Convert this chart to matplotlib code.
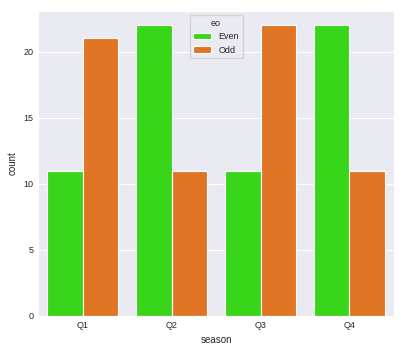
import matplotlib
matplotlib.use("Agg")
import matplotlib.pyplot as plt
import numpy as np
import seaborn as sns

sns.set_style("darkgrid")
plt.rcParams['font.family'] = ['Liberation Sans', 'DejaVu Sans']

seasons = ["Q1", "Q2", "Q3", "Q4"]
even_counts = [11, 22, 11, 22]
odd_counts = [21, 11, 22, 11]
labels = ["Even", "Odd"]
colors = ["#39d51a", "#e07625"]

fig, ax = plt.subplots(figsize=(4.02, 3.53), dpi=100)
fig.subplots_adjust(left=0.095, right=0.98, top=0.97, bottom=0.105)

x = np.arange(len(seasons))
width = 0.4
ax.bar(x - width/2, even_counts, width, color=colors[0], label=labels[0], edgecolor="white", linewidth=0.8)
ax.bar(x + width/2, odd_counts, width, color=colors[1], label=labels[1], edgecolor="white", linewidth=0.8)

ax.set_xticks(x)
ax.set_xticklabels(seasons)
ax.set_xlim(-0.5, 3.5)
ax.set_ylim(0, 23.1)
ax.grid(False, axis="x")
ax.set_xlabel("season", fontsize=7)
ax.set_ylabel("count", fontsize=7)
ax.tick_params(labelsize=6.5, length=0)
ax.legend(title="eo", loc="upper center", fontsize=6.5, title_fontsize=6.5)

fig.savefig("out.png", dpi=100)
